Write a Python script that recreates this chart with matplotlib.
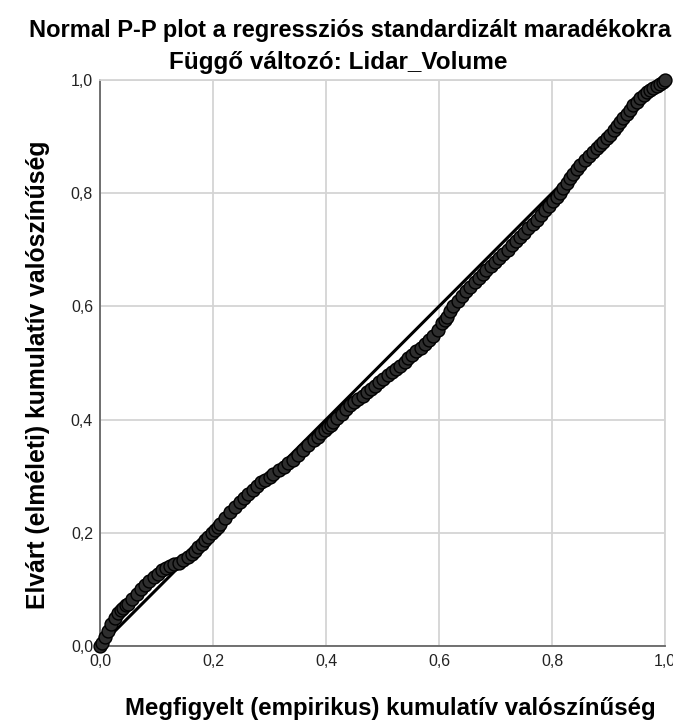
import matplotlib
matplotlib.use("Agg")
import matplotlib.pyplot as plt
from matplotlib.ticker import FuncFormatter

plt.rcParams['font.family'] = ['Liberation Sans', 'DejaVu Sans']

title = "Normal P-P plot a regressziós standardizált maradékokra"
subtitle = "Függő változó: Lidar_Volume"
xlabel = "Megfigyelt (empirikus) kumulatív valószínűség"
ylabel = "Elvárt (elméleti) kumulatív valószínűség"

ticks = [0.0, 0.2, 0.4, 0.6, 0.8, 1.0]

observed_cum = [
    0.000, 0.004, 0.009, 0.014, 0.020, 0.026, 0.032, 0.037, 0.041, 0.046,
    0.050, 0.057, 0.065, 0.072, 0.080, 0.087, 0.095, 0.102, 0.109, 0.116,
    0.124, 0.131, 0.139, 0.147, 0.156, 0.162, 0.168, 0.174, 0.180, 0.186,
    0.192, 0.198, 0.204, 0.208, 0.212, 0.221, 0.230, 0.239, 0.248, 0.255,
    0.262, 0.270, 0.277, 0.285, 0.292, 0.300, 0.307, 0.316, 0.325, 0.333,
    0.342, 0.351, 0.360, 0.369, 0.378, 0.385, 0.391, 0.398, 0.404, 0.409,
    0.413, 0.420, 0.428, 0.435, 0.442, 0.450, 0.457, 0.465, 0.472, 0.480,
    0.487, 0.494, 0.501, 0.509, 0.516, 0.524, 0.531, 0.539, 0.546, 0.553,
    0.560, 0.568, 0.575, 0.583, 0.590, 0.598, 0.605, 0.610, 0.614, 0.620,
    0.625, 0.633, 0.640, 0.648, 0.655, 0.663, 0.670, 0.677, 0.684, 0.692,
    0.699, 0.707, 0.714, 0.722, 0.729, 0.736, 0.743, 0.751, 0.758, 0.766,
    0.773, 0.780, 0.787, 0.795, 0.802, 0.808, 0.814, 0.820, 0.826, 0.832,
    0.838, 0.844, 0.850, 0.858, 0.865, 0.872, 0.879, 0.885, 0.891, 0.897,
    0.903, 0.909, 0.915, 0.921, 0.926, 0.932, 0.938, 0.944, 0.950, 0.956,
    0.962, 0.968, 0.973, 0.979, 0.985, 0.991, 0.997, 1.000]
expected_cum = [
    0.000, 0.006, 0.016, 0.026, 0.038, 0.049, 0.059, 0.064, 0.068, 0.072,
    0.075, 0.083, 0.092, 0.100, 0.108, 0.115, 0.122, 0.128, 0.134, 0.138,
    0.141, 0.144, 0.147, 0.152, 0.158, 0.163, 0.168, 0.175, 0.181, 0.187,
    0.193, 0.199, 0.205, 0.211, 0.215, 0.226, 0.237, 0.246, 0.254, 0.261,
    0.268, 0.276, 0.283, 0.289, 0.294, 0.299, 0.304, 0.311, 0.317, 0.323,
    0.329, 0.338, 0.347, 0.356, 0.364, 0.370, 0.376, 0.382, 0.387, 0.391,
    0.396, 0.402, 0.410, 0.418, 0.425, 0.431, 0.436, 0.442, 0.448, 0.454,
    0.460, 0.466, 0.472, 0.478, 0.484, 0.489, 0.495, 0.501, 0.508, 0.515,
    0.522, 0.527, 0.533, 0.540, 0.548, 0.559, 0.570, 0.576, 0.582, 0.591,
    0.600, 0.610, 0.619, 0.627, 0.635, 0.643, 0.650, 0.657, 0.664, 0.671,
    0.678, 0.685, 0.692, 0.700, 0.708, 0.716, 0.723, 0.730, 0.738, 0.746,
    0.753, 0.762, 0.770, 0.778, 0.786, 0.793, 0.800, 0.809, 0.818, 0.826,
    0.834, 0.842, 0.850, 0.858, 0.865, 0.872, 0.879, 0.885, 0.891, 0.897,
    0.903, 0.911, 0.918, 0.925, 0.932, 0.940, 0.947, 0.955, 0.962, 0.968,
    0.973, 0.978, 0.982, 0.986, 0.990, 0.993, 0.996, 1.000]

fig = plt.figure(figsize=(6.73, 7.26), dpi=100)
ax = fig.add_axes([100/673, 1 - 646/726, 565/673, 566/726])

ax.set_xlim(0, 1)
ax.set_ylim(0, 1)
ax.set_xticks(ticks)
ax.set_yticks(ticks)
fmt = FuncFormatter(lambda v, p: f"{v:.1f}".replace('.', ','))
ax.xaxis.set_major_formatter(fmt)
ax.yaxis.set_major_formatter(fmt)
ax.tick_params(axis='both', length=0, labelsize=11.5, colors='#222222')
ax.tick_params(axis='x', pad=6)
ax.tick_params(axis='y', pad=5)
ax.grid(True, color='#d4d4d4', linewidth=1.3)
ax.set_axisbelow(True)
for s in ['top', 'right']:
    ax.spines[s].set_color('#d4d4d4')
    ax.spines[s].set_linewidth(1.3)
for s in ['left', 'bottom']:
    ax.spines[s].set_color('#666666')
    ax.spines[s].set_linewidth(1.3)

ax.plot([0, 1], [0, 1], color='black', linewidth=2.2, zorder=3, clip_on=False)
ax.plot(observed_cum, expected_cum, linestyle='none', marker='o', markersize=9.3,
        markerfacecolor='#2e2e2e', markeredgecolor='black', markeredgewidth=1.0,
        zorder=4, clip_on=False)

fig.text(350/673, 1 - 30/726, title, ha='center', va='center', fontsize=17, fontweight='bold')
fig.text(338/673, 1 - 62/726, subtitle, ha='center', va='center', fontsize=17.5, fontweight='bold')
fig.text(390/673, 1 - 708/726, xlabel, ha='center', va='center', fontsize=17.3, fontweight='bold')
fig.text(38/673, 1 - 375/726, ylabel, ha='center', va='center', fontsize=17.8,
         fontweight='bold', rotation=90)

fig.savefig('out.png', dpi=100)
